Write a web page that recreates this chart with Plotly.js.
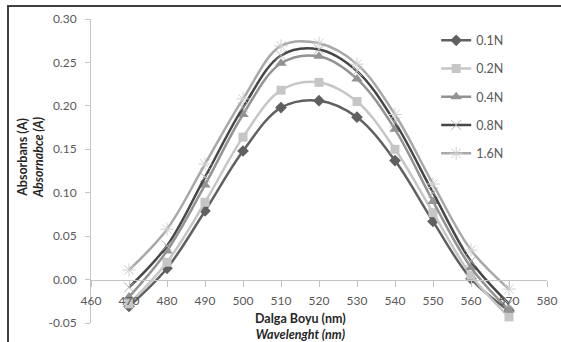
<!DOCTYPE html>
<html>
<head>
<meta charset="utf-8">
<script src="https://cdn.plot.ly/plotly-3.0.1.min.js"></script>
<style>
  html, body { margin: 0; padding: 0; background: #fff; }
  #wrap { position: relative; width: 561px; height: 342px; overflow: hidden; }
  #chart { position: absolute; left: 0; top: 0; width: 561px; height: 342px; }
  #bt { position: absolute; left: 7px; top: 5px; width: 560px; height: 2px; background: #3f3f3f; }
  #bl { position: absolute; left: 7px; top: 5px; width: 2px; height: 340px; background: #3f3f3f; }
</style>
</head>
<body>
<div id="wrap">
  <div id="chart"></div>
  <div id="bt"></div>
  <div id="bl"></div>
</div>
<script>
const wavelengths = [470, 480, 490, 500, 510, 520, 530, 540, 550, 560, 570];
const seriesNames = ['0.1N', '0.2N', '0.4N', '0.8N', '1.6N'];
const s01 = [-0.031, 0.013, 0.079, 0.148, 0.198, 0.206, 0.187, 0.137, 0.067, 0.001, -0.036];
const s02 = [-0.028, 0.020, 0.089, 0.164, 0.218, 0.227, 0.205, 0.150, 0.077, 0.005, -0.043];
const s04 = [-0.020, 0.033, 0.109, 0.190, 0.249, 0.257, 0.231, 0.173, 0.090, 0.014, -0.035];
const s08 = [-0.009, 0.039, 0.118, 0.198, 0.258, 0.265, 0.240, 0.181, 0.100, 0.021, -0.028];
const s16 = [0.011, 0.058, 0.133, 0.208, 0.269, 0.272, 0.248, 0.190, 0.110, 0.034, -0.011];
const xTicks = [460, 470, 480, 490, 500, 510, 520, 530, 540, 550, 560, 570, 580];
const yTicks = [-0.05, 0.00, 0.05, 0.10, 0.15, 0.20, 0.25, 0.30];

const FONT = 'Lato, "Open Sans", sans-serif';
const styles = [
  {line: '#606060', marker: {symbol: 'diamond', size: 9, color: '#606060'}},
  {line: '#c6c6c6', marker: {symbol: 'square', size: 9, color: '#c6c6c6'}},
  {line: '#939393', marker: {symbol: 'triangle-up', size: 10, color: '#939393'}},
  {line: '#474747', marker: {symbol: 'x-thin-open', size: 10, color: '#b4b4b4', line: {color: '#b4b4b4', width: 1}}},
  {line: '#a8a8a8', marker: {symbol: 'asterisk-open', size: 11, color: '#cfcfcf', line: {color: '#cfcfcf', width: 1}}}
];
const allSeries = [s01, s02, s04, s08, s16];

const traces = allSeries.map((ys, i) => ({
  x: wavelengths,
  y: ys,
  name: seriesNames[i],
  legendgroup: 'g' + i,
  type: 'scatter',
  mode: 'lines+markers',
  line: {color: styles[i].line, width: 2.5, shape: 'spline', smoothing: 1},
  marker: styles[i].marker
}));

const layout = {
  width: 561, height: 342,
  margin: {l: 91, r: 14, t: 19, b: 19, pad: 0},
  paper_bgcolor: '#ffffff',
  plot_bgcolor: '#ffffff',
  font: {family: FONT, size: 11, color: '#595959'},
  showlegend: true,
  legend: {
    x: 0.757, y: 0.978, xanchor: 'left', yanchor: 'top',
    font: {family: FONT, size: 12.5, color: '#595959'},
    tracegroupgap: 9,
    bgcolor: 'rgba(0,0,0,0)'
  },
  xaxis: {
    range: [460, 580],
    tickvals: xTicks,
    ticktext: xTicks.map(String),
    anchor: 'free',
    position: 0.05 / 0.35,
    showline: true, linecolor: '#c4c4c4', linewidth: 1,
    ticks: 'outside', ticklen: 6, tickcolor: '#c4c4c4',
    showgrid: false, zeroline: false,
    ticklabelstandoff: 4,
    tickfont: {family: FONT, size: 12, color: '#595959'}
  },
  yaxis: {
    range: [-0.05, 0.30],
    tickvals: yTicks,
    ticktext: yTicks.map(v => v.toFixed(2)),
    showline: true, linecolor: '#c4c4c4', linewidth: 1,
    ticks: 'outside', ticklen: 5, tickcolor: '#c4c4c4',
    showgrid: false, zeroline: false,
    ticklabelstandoff: 6,
    tickfont: {family: FONT, size: 12, color: '#595959'}
  },
  annotations: [
    {
      xref: 'paper', yref: 'paper',
      x: (30 - 91) / 456, y: (323 - 158) / 304,
      xanchor: 'center', yanchor: 'middle',
      textangle: -90, showarrow: false,
      text: '<b>Absorbans (A)</b><br><b><i>Absornabce (A)</i></b>',
      font: {family: FONT, size: 12.5, color: '#262626'}
    },
    {
      xref: 'paper', yref: 'paper',
      x: (300 - 91) / 456, y: (323 - 326) / 304,
      xanchor: 'center', yanchor: 'middle',
      showarrow: false,
      text: '<b>Dalga Boyu (nm)</b><br><b><i>Wavelenght (nm)</i></b>',
      font: {family: FONT, size: 12.5, color: '#262626'}
    }
  ]
};

Plotly.newPlot('chart', traces, layout, {displayModeBar: false, staticPlot: true});
</script>
</body>
</html>
